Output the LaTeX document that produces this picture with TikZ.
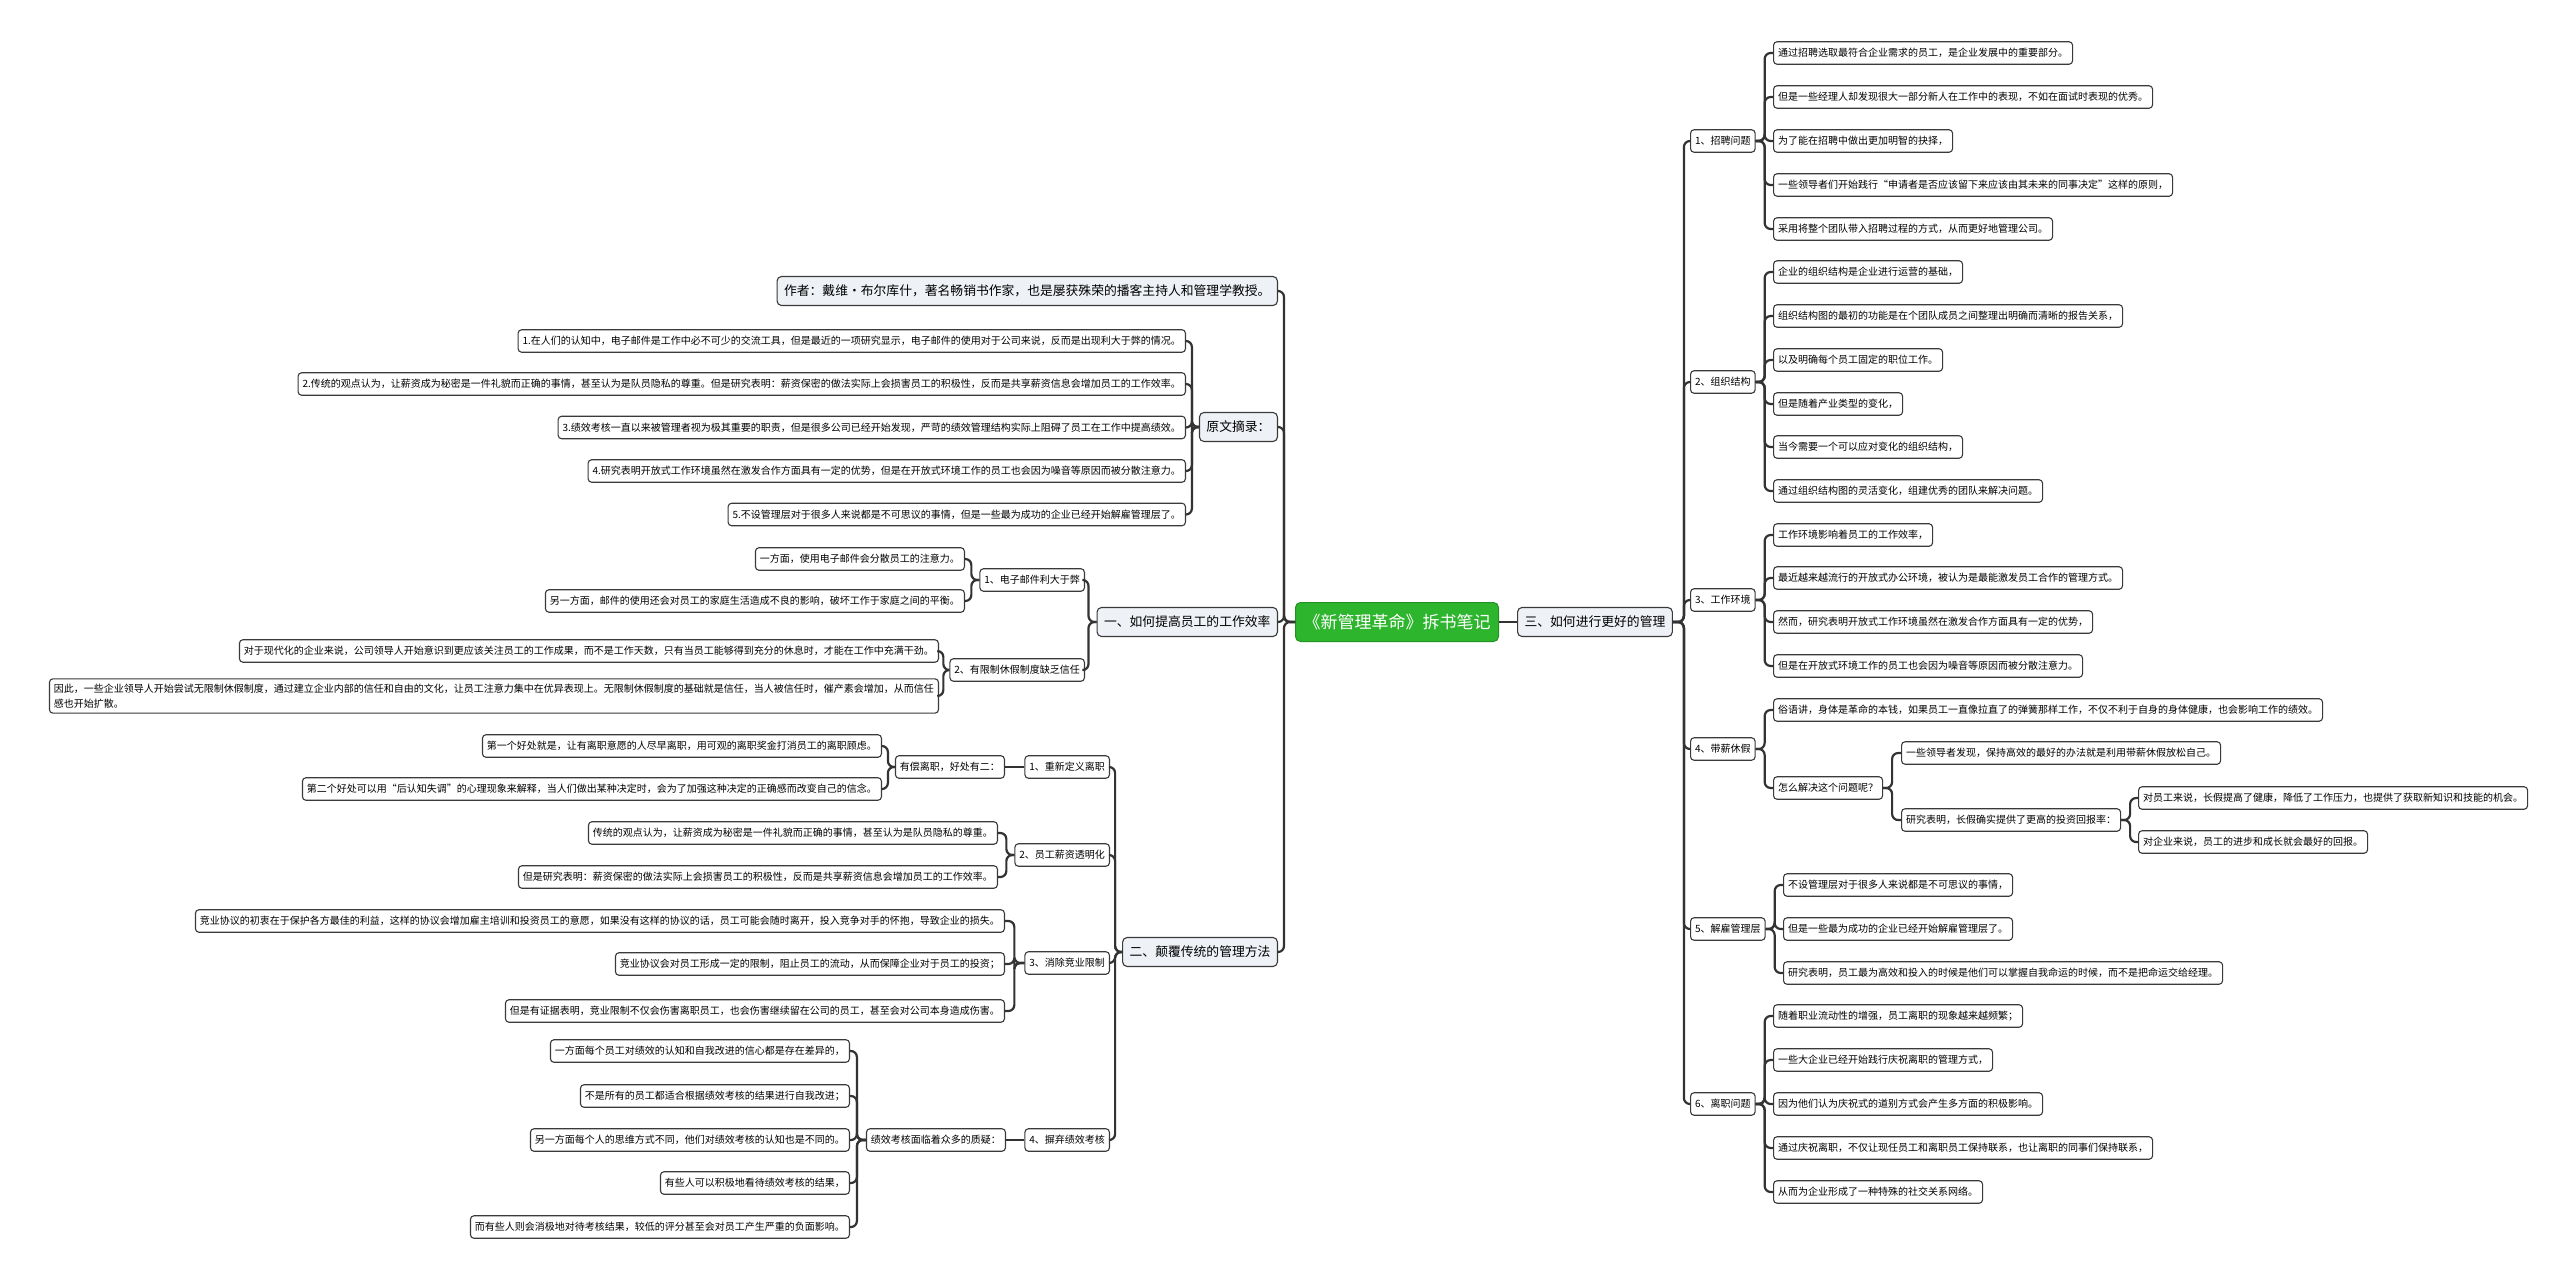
\documentclass[tikz,border=0pt]{standalone}
\usepackage{fontspec}
\newfontfamily\cjk{Noto Sans CJK SC}
\definecolor{rootgreen}{HTML}{2DB52D}
\definecolor{lonefill}{HTML}{EEF1F6}
\definecolor{edgegray}{HTML}{333333}
\definecolor{boxline}{HTML}{3A3A3A}
\begin{document}
\begin{tikzpicture}[x=1pt,y=-1pt,
  base/.style={draw=boxline, line width=1.1pt, inner ysep=0pt, align=center},
  leaf/.style={base, fill=white, rounded corners=3.5pt, minimum height=22.5pt, inner xsep=4.5pt, font=\cjk\fontsize{10}{12}\selectfont},
  lone/.style={base, fill=lonefill, rounded corners=4.5pt, minimum height=29pt, inner xsep=7pt, font=\cjk\fontsize{12.8}{15}\selectfont},
  rootbox/.style={draw=rootgreen!80!black, fill=rootgreen, text=white, rounded corners=5pt, minimum height=39pt, inner xsep=8pt, inner ysep=0pt, line width=1pt, font=\cjk\fontsize{17}{20}\selectfont},
  conn/.style={draw=edgegray, line width=2.2pt, rounded corners=6pt},
]
\useasboundingbox (0,0) rectangle (2560,1279);
\fill[white] (0,0) rectangle (2560,1279);

% ---------------- root and level 1 ----------------
\node[rootbox] (root) at (1397,622) {《新管理革命》拆书笔记};
\node[lone, anchor=east] (author) at (1278,291) {作者：戴维•布尔库什，著名畅销书作家，也是屡获殊荣的播客主持人和管理学教授。};
\node[lone, anchor=east] (yw) at (1278,427) {原文摘录：};
\node[lone, anchor=east] (yi) at (1278,622) {一、如何提高员工的工作效率};
\node[lone, anchor=east] (er) at (1278,952) {二、颠覆传统的管理方法};
\node[lone, anchor=west] (san) at (1517,622) {三、如何进行更好的管理};

% ---------------- 原文摘录 ----------------
\node[leaf, anchor=east] (yw1) at (1186,341) {1.在人们的认知中，电子邮件是工作中必不可少的交流工具，但是最近的一项研究显示，电子邮件的使用对于公司来说，反而是出现利大于弊的情况。};
\node[leaf, anchor=east] (yw2) at (1186,384) {2.传统的观点认为，让薪资成为秘密是一件礼貌而正确的事情，甚至认为是队员隐私的尊重。但是研究表明：薪资保密的做法实际上会损害员工的积极性，反而是共享薪资信息会增加员工的工作效率。};
\node[leaf, anchor=east] (yw3) at (1186,427.5) {3.绩效考核一直以来被管理者视为极其重要的职责，但是很多公司已经开始发现，严苛的绩效管理结构实际上阻碍了员工在工作中提高绩效。};
\node[leaf, anchor=east] (yw4) at (1186,471) {4.研究表明开放式工作环境虽然在激发合作方面具有一定的优势，但是在开放式环境工作的员工也会因为噪音等原因而被分散注意力。};
\node[leaf, anchor=east] (yw5) at (1186,514.5) {5.不设管理层对于很多人来说都是不可思议的事情，但是一些最为成功的企业已经开始解雇管理层了。};

% ---------------- 一 ----------------
\node[leaf, anchor=east] (yj) at (1085,580) {1、电子邮件利大于弊};
\node[leaf, anchor=east] (xj) at (1085,670) {2、有限制休假制度缺乏信任};
\node[leaf, anchor=east] (yj1) at (965,559) {一方面，使用电子邮件会分散员工的注意力。};
\node[leaf, anchor=east] (yj2) at (965,601) {另一方面，邮件的使用还会对员工的家庭生活造成不良的影响，破坏工作于家庭之间的平衡。};
\node[leaf, anchor=east] (xj1) at (939,651) {对于现代化的企业来说，公司领导人开始意识到更应该关注员工的工作成果，而不是工作天数，只有当员工能够得到充分的休息时，才能在工作中充满干劲。};
\node[leaf, anchor=east, align=left, inner ysep=5pt, font=\cjk\fontsize{10}{15}\selectfont] (xj2) at (939,696) {因此，一些企业领导人开始尝试无限制休假制度，通过建立企业内部的信任和自由的文化，让员工注意力集中在优异表现上。无限制休假制度的基础就是信任，当人被信任时，催产素会增加，从而信任\\感也开始扩散。};

% ---------------- 二 ----------------
\node[leaf, anchor=east] (cx) at (1110,767) {1、重新定义离职};
\node[leaf, anchor=east] (xz) at (1110,855) {2、员工薪资透明化};
\node[leaf, anchor=east] (jy) at (1110,963) {3、消除竞业限制};
\node[leaf, anchor=east] (jx) at (1110,1140) {4、摒弃绩效考核};
\node[leaf, anchor=east] (yc) at (1005,767) {有偿离职，好处有二：};
\node[leaf, anchor=east] (yc1) at (882,746) {第一个好处就是，让有离职意愿的人尽早离职，用可观的离职奖金打消员工的离职顾虑。};
\node[leaf, anchor=east] (yc2) at (882,789) {第二个好处可以用“后认知失调”的心理现象来解释，当人们做出某种决定时，会为了加强这种决定的正确感而改变自己的信念。};
\node[leaf, anchor=east] (xz1) at (998,833) {传统的观点认为，让薪资成为秘密是一件礼貌而正确的事情，甚至认为是队员隐私的尊重。};
\node[leaf, anchor=east] (xz2) at (998,877) {但是研究表明：薪资保密的做法实际上会损害员工的积极性，反而是共享薪资信息会增加员工的工作效率。};
\node[leaf, anchor=east] (jy1) at (1005,921) {竞业协议的初衷在于保护各方最佳的利益，这样的协议会增加雇主培训和投资员工的意愿，如果没有这样的协议的话，员工可能会随时离开，投入竞争对手的怀抱，导致企业的损失。};
\node[leaf, anchor=east] (jy2) at (1005,964) {竞业协议会对员工形成一定的限制，阻止员工的流动，从而保障企业对于员工的投资；};
\node[leaf, anchor=east] (jy3) at (1005,1011) {但是有证据表明，竞业限制不仅会伤害离职员工，也会伤害继续留在公司的员工，甚至会对公司本身造成伤害。};
\node[leaf, anchor=east] (zy) at (1006,1140) {绩效考核面临着众多的质疑：};
\node[leaf, anchor=east] (zy1) at (850,1051) {一方面每个员工对绩效的认知和自我改进的信心都是存在差异的，};
\node[leaf, anchor=east] (zy2) at (850,1096) {不是所有的员工都适合根据绩效考核的结果进行自我改进；};
\node[leaf, anchor=east] (zy3) at (850,1140) {另一方面每个人的思维方式不同，他们对绩效考核的认知也是不同的。};
\node[leaf, anchor=east] (zy4) at (850,1183) {有些人可以积极地看待绩效考核的结果，};
\node[leaf, anchor=east] (zy5) at (850,1227) {而有些人则会消极地对待考核结果，较低的评分甚至会对员工产生严重的负面影响。};

% ---------------- 三 ----------------
\node[leaf, anchor=west] (zp) at (1690,141) {1、招聘问题};
\node[leaf, anchor=west] (zz) at (1690,382) {2、组织结构};
\node[leaf, anchor=west] (hj) at (1690,600) {3、工作环境};
\node[leaf, anchor=west] (dx) at (1690,749) {4、带薪休假};
\node[leaf, anchor=west] (jg) at (1690,929) {5、解雇管理层};
\node[leaf, anchor=west] (lz) at (1690,1104) {6、离职问题};

\node[leaf, anchor=west] (zp1) at (1773,53) {通过招聘选取最符合企业需求的员工，是企业发展中的重要部分。};
\node[leaf, anchor=west] (zp2) at (1773,97) {但是一些经理人却发现很大一部分新人在工作中的表现，不如在面试时表现的优秀。};
\node[leaf, anchor=west] (zp3) at (1773,141) {为了能在招聘中做出更加明智的抉择，};
\node[leaf, anchor=west] (zp4) at (1773,185) {一些领导者们开始践行“申请者是否应该留下来应该由其未来的同事决定”这样的原则，};
\node[leaf, anchor=west] (zp5) at (1773,229) {采用将整个团队带入招聘过程的方式，从而更好地管理公司。};

\node[leaf, anchor=west] (zz1) at (1773,272) {企业的组织结构是企业进行运营的基础，};
\node[leaf, anchor=west] (zz2) at (1773,316) {组织结构图的最初的功能是在个团队成员之间整理出明确而清晰的报告关系，};
\node[leaf, anchor=west] (zz3) at (1773,360) {以及明确每个员工固定的职位工作。};
\node[leaf, anchor=west] (zz4) at (1773,404) {但是随着产业类型的变化，};
\node[leaf, anchor=west] (zz5) at (1773,447) {当今需要一个可以应对变化的组织结构，};
\node[leaf, anchor=west] (zz6) at (1773,491) {通过组织结构图的灵活变化，组建优秀的团队来解决问题。};

\node[leaf, anchor=west] (hj1) at (1773,535) {工作环境影响着员工的工作效率，};
\node[leaf, anchor=west] (hj2) at (1773,578) {最近越来越流行的开放式办公环境，被认为是最能激发员工合作的管理方式。};
\node[leaf, anchor=west] (hj3) at (1773,622) {然而，研究表明开放式工作环境虽然在激发合作方面具有一定的优势，};
\node[leaf, anchor=west] (hj4) at (1773,666) {但是在开放式环境工作的员工也会因为噪音等原因而被分散注意力。};

\node[leaf, anchor=west] (dx1) at (1773,710) {俗语讲，身体是革命的本钱，如果员工一直像拉直了的弹簧那样工作，不仅不利于自身的身体健康，也会影响工作的绩效。};
\node[leaf, anchor=west] (zm) at (1773,788) {怎么解决这个问题呢？};
\node[leaf, anchor=west] (zm1) at (1901,753) {一些领导者发现，保持高效的最好的办法就是利用带薪休假放松自己。};
\node[leaf, anchor=west] (zm2) at (1901,820) {研究表明，长假确实提供了更高的投资回报率：};
\node[leaf, anchor=west] (hb1) at (2138,798) {对员工来说，长假提高了健康，降低了工作压力，也提供了获取新知识和技能的机会。};
\node[leaf, anchor=west] (hb2) at (2138,842) {对企业来说，员工的进步和成长就会最好的回报。};

\node[leaf, anchor=west] (jg1) at (1783,885) {不设管理层对于很多人来说都是不可思议的事情，};
\node[leaf, anchor=west] (jg2) at (1783,929) {但是一些最为成功的企业已经开始解雇管理层了。};
\node[leaf, anchor=west] (jg3) at (1783,973) {研究表明，员工最为高效和投入的时候是他们可以掌握自我命运的时候，而不是把命运交给经理。};

\node[leaf, anchor=west] (lz1) at (1773,1016) {随着职业流动性的增强，员工离职的现象越来越频繁；};
\node[leaf, anchor=west] (lz2) at (1773,1060) {一些大企业已经开始践行庆祝离职的管理方式，};
\node[leaf, anchor=west] (lz3) at (1773,1104) {因为他们认为庆祝式的道别方式会产生多方面的积极影响。};
\node[leaf, anchor=west] (lz4) at (1773,1148) {通过庆祝离职，不仅让现任员工和离职员工保持联系，也让离职的同事们保持联系，};
\node[leaf, anchor=west] (lz5) at (1773,1192) {从而为企业形成了一种特殊的社交关系网络。};

% ---------------- connectors ----------------
\foreach \c in {author,yw,yi,er} \draw[conn] (root.west) -- ++(-11,0) |- (\c.east);
\draw[conn] (root.east) -- (san.west);
\foreach \c in {yw1,yw2,yw3,yw4,yw5} \draw[conn] (yw.west) -- ++(-7,0) |- (\c.east);
\foreach \c in {yj,xj} \draw[conn] (yi.west) -- ++(-8,0) |- (\c.east);
\foreach \c in {yj1,yj2} \draw[conn] (yj.west) -- ++(-8,0) |- (\c.east);
\foreach \c in {xj1,xj2} \draw[conn] (xj.west) -- ++(-6,0) |- (\c.east);
\foreach \c in {cx,xz,jy,jx} \draw[conn] (er.west) -- ++(-7,0) |- (\c.east);
\draw[conn] (cx.west) -- (yc.east);
\foreach \c in {yc1,yc2} \draw[conn] (yc.west) -- ++(-7,0) |- (\c.east);
\foreach \c in {xz1,xz2} \draw[conn] (xz.west) -- ++(-8,0) |- (\c.east);
\foreach \c in {jy1,jy2,jy3} \draw[conn] (jy.west) -- ++(-10,0) |- (\c.east);
\draw[conn] (jx.west) -- (zy.east);
\foreach \c in {zy1,zy2,zy3,zy4,zy5} \draw[conn] (zy.west) -- ++(-9,0) |- (\c.east);

\foreach \c in {zp,zz,hj,dx,jg,lz} \draw[conn] (san.east) -- ++(11,0) |- (\c.west);
\foreach \c in {zp1,zp2,zp3,zp4,zp5} \draw[conn] (zp.east) -- ++(9,0) |- (\c.west);
\foreach \c in {zz1,zz2,zz3,zz4,zz5,zz6} \draw[conn] (zz.east) -- ++(9,0) |- (\c.west);
\foreach \c in {hj1,hj2,hj3,hj4} \draw[conn] (hj.east) -- ++(9,0) |- (\c.west);
\foreach \c in {dx1,zm} \draw[conn] (dx.east) -- ++(9,0) |- (\c.west);
\foreach \c in {zm1,zm2} \draw[conn] (zm.east) -- ++(9,0) |- (\c.west);
\foreach \c in {hb1,hb2} \draw[conn] (zm2.east) -- ++(9,0) |- (\c.west);
\foreach \c in {jg1,jg2,jg3} \draw[conn] (jg.east) -- ++(9,0) |- (\c.west);
\foreach \c in {lz1,lz2,lz3,lz4,lz5} \draw[conn] (lz.east) -- ++(9,0) |- (\c.west);
\end{tikzpicture}
\end{document}
